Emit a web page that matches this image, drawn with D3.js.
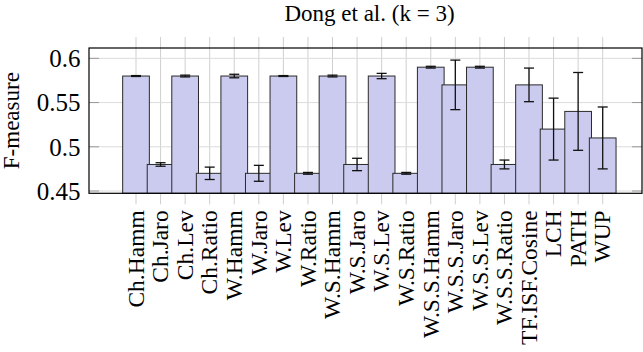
<!DOCTYPE html>
<html>
<head>
<meta charset="utf-8">
<script src="https://cdn.jsdelivr.net/npm/d3@7"></script>
<style>
  body { margin: 0; background: #fff; }
</style>
</head>
<body>
<div class="container"></div>
<script>
"use strict";

// data
const categories = ['Ch.Hamm', 'Ch.Jaro', 'Ch.Lev', 'Ch.Ratio', 'W.Hamm', 'W.Jaro', 'W.Lev', 'W.Ratio',
	'W.S.Hamm', 'W.S.Jaro', 'W.S.Lev', 'W.S.Ratio', 'W.S.S.Hamm', 'W.S.S.Jaro', 'W.S.S.Lev', 'W.S.S.Ratio',
	'TF.ISF.Cosine', 'LCH', 'PATH', 'WUP']
const fMeasure = [0.58, 0.48, 0.58, 0.47, 0.58, 0.47, 0.58, 0.47,
	0.58, 0.48, 0.58, 0.47, 0.59, 0.57, 0.59, 0.48,
	0.57, 0.52, 0.54, 0.51]
const errors = [0.0005, 0.002, 0.001, 0.007, 0.002, 0.009, 0.0005, 0.001,
	0.001, 0.007, 0.003, 0.001, 0.001, 0.028, 0.001, 0.005,
	0.019, 0.035, 0.044, 0.035]
const yTicks = [0.45, 0.5, 0.55, 0.6]
const title = 'Dong et al. (k = 3)'
const yLabel = 'F-measure'

//the p(properties) of the svg
const p = {
	width: 643,
	height: 352,
	left: 89,
	right: 642,
	top: 48,
	bottom: 193.3,
	barWidth: 26.7,
	capHalf: 5,
	font: '"Liberation Serif", "Times New Roman", Times, serif'
}

const svg = d3.select('.container')
	.append('svg')
	.attr('width', p.width)
	.attr('height', p.height)

const x = d3.scaleLinear().domain([-1.914, 20.6]).range([p.left, p.right])
const y = d3.scaleLinear().domain([0.4474, 0.6117]).range([p.bottom, p.top])

//vertical grid + outside ticks for every category
svg.append('g').selectAll('line')
	.data(categories)
	.join('line')
	.attr('x1', (d, i) => x(i))
	.attr('x2', (d, i) => x(i))
	.attr('y1', p.top - 11)
	.attr('y2', p.bottom + 11)
	.attr('stroke', '#cfcfcf')
	.attr('stroke-width', 1)

//horizontal grid
svg.append('g').selectAll('line')
	.data(yTicks)
	.join('line')
	.attr('x1', p.left)
	.attr('x2', p.right)
	.attr('y1', d => y(d))
	.attr('y2', d => y(d))
	.attr('stroke', '#dcdcdc')
	.attr('stroke-width', 1)

//y tick marks, inside on both sides
const tickG = svg.append('g')
yTicks.forEach(function(t) {
	tickG.append('line')
		.attr('x1', p.left).attr('x2', p.left + 10)
		.attr('y1', y(t)).attr('y2', y(t))
		.attr('stroke', '#999')
	tickG.append('line')
		.attr('x1', p.right - 10).attr('x2', p.right)
		.attr('y1', y(t)).attr('y2', y(t))
		.attr('stroke', '#999')
})

//bars, drawn in order so later ones overlap the earlier
svg.append('g').selectAll('rect')
	.data(fMeasure)
	.join('rect')
	.attr('x', (d, i) => x(i) - p.barWidth / 2)
	.attr('y', d => y(d))
	.attr('width', p.barWidth)
	.attr('height', d => p.bottom - y(d))
	.attr('fill', '#cbcbef')
	.attr('stroke', '#2a2a2a')
	.attr('stroke-width', 1)

//error bars
const errG = svg.append('g').attr('stroke', '#111').attr('stroke-width', 1.3)
fMeasure.forEach(function(v, i) {
	const cx = x(i)
	const y1 = y(v + errors[i])
	const y2 = y(v - errors[i])
	errG.append('line').attr('x1', cx).attr('x2', cx).attr('y1', y1).attr('y2', y2)
	errG.append('line').attr('x1', cx - p.capHalf).attr('x2', cx + p.capHalf).attr('y1', y1).attr('y2', y1)
	errG.append('line').attr('x1', cx - p.capHalf).attr('x2', cx + p.capHalf).attr('y1', y2).attr('y2', y2)
})

//axis box
svg.append('rect')
	.attr('x', p.left)
	.attr('y', p.top)
	.attr('width', p.right - p.left)
	.attr('height', p.bottom - p.top)
	.attr('fill', 'none')
	.attr('stroke', '#000')
	.attr('stroke-width', 1.2)

//y tick labels
svg.append('g').selectAll('text')
	.data(yTicks)
	.join('text')
	.attr('x', p.left - 8.5)
	.attr('y', d => y(d))
	.attr('dy', '0.35em')
	.attr('text-anchor', 'end')
	.attr('font-family', p.font)
	.attr('font-size', 25)
	.text(d => d3.format('')(d))

//x tick labels, rotated
svg.append('g').selectAll('text')
	.data(categories)
	.join('text')
	.attr('transform', (d, i) => `translate(${x(i)},${p.bottom + 17}) rotate(-90)`)
	.attr('dy', '0.33em')
	.attr('text-anchor', 'end')
	.attr('font-family', p.font)
	.attr('font-size', 23.5)
	.text(d => d)

//title
svg.append('text')
	.attr('x', 369.5)
	.attr('y', 21)
	.attr('text-anchor', 'middle')
	.attr('font-family', p.font)
	.attr('font-size', 23)
	.text(title)

//y label
svg.append('text')
	.attr('transform', `translate(19,${(p.top + p.bottom) / 2}) rotate(-90)`)
	.attr('text-anchor', 'middle')
	.attr('font-family', p.font)
	.attr('font-size', 23)
	.text(yLabel)
</script>
</body>
</html>
